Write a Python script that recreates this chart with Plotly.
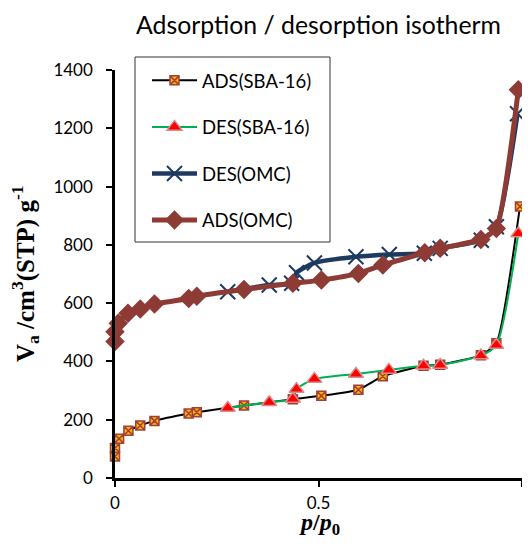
import plotly.graph_objects as go

# ---- data ----
ads_sba_x = [0.0, 0.0, 0.010, 0.033, 0.062, 0.097, 0.181, 0.201, 0.317, 0.437, 0.507, 0.598, 0.658, 0.758, 0.799, 0.899, 0.937, 0.995]
ads_sba_y = [74, 103, 135, 162, 180, 196, 221, 226, 249, 270, 282, 303, 349, 385, 389, 421, 462, 932]

des_sba_x = [0.991, 0.937, 0.899, 0.799, 0.758, 0.673, 0.592, 0.490, 0.446, 0.437, 0.379, 0.277]
des_sba_y = [839, 456, 420, 388, 385, 371, 357, 340, 305, 271, 260, 240]

des_omc_x = [0.989, 0.937, 0.900, 0.799, 0.760, 0.674, 0.592, 0.490, 0.446, 0.434, 0.379, 0.277]
des_omc_y = [1250, 862, 816, 788, 771, 767, 759, 738, 704, 668, 662, 639]

ads_omc_x = [0.0, 0.0, 0.008, 0.032, 0.062, 0.097, 0.181, 0.201, 0.317, 0.437, 0.507, 0.598, 0.658, 0.761, 0.799, 0.899, 0.937, 0.991]
ads_omc_y = [468, 502, 531, 565, 580, 597, 616, 624, 647, 668, 679, 702, 731, 773, 788, 818, 856, 1332]

x_ticks = [0, 0.5, 1]
x_tick_labels = ["0", "0.5", "1"]
y_ticks = [0, 200, 400, 600, 800, 1000, 1200, 1400]

# the page has an 8px body margin; keep the figure inside the 530x548 window
W, H = 514, 532
PW = 407.0  # plot-area width in px
PH = 408.0  # plot-area height in px

fig = go.Figure()
fig.add_trace(go.Scatter(
    x=ads_sba_x, y=ads_sba_y, name="ADS(SBA-16)", mode="lines+markers",
    line=dict(color="black", width=2, shape="spline", smoothing=0.5),
    marker=dict(symbol="square-x", size=9, color="#FFB000", line=dict(color="#A0403A", width=1.5)),
    legendgroup="g1", cliponaxis=False))
fig.add_trace(go.Scatter(
    x=des_sba_x, y=des_sba_y, name="DES(SBA-16)", mode="lines+markers",
    line=dict(color="#00B050", width=2, shape="spline", smoothing=0.6),
    marker=dict(symbol="triangle-up", size=13, color="#FF0000", line=dict(color="#D98C8C", width=1.5)),
    legendgroup="g2", cliponaxis=False))
fig.add_trace(go.Scatter(
    x=des_omc_x, y=des_omc_y, name="DES(OMC)", mode="lines+markers",
    line=dict(color="#1F3A60", width=4.5, shape="spline", smoothing=0.6),
    marker=dict(symbol="x-thin", size=15, color="#1F3A60", line=dict(color="#1F3A60", width=2)),
    legendgroup="g3", cliponaxis=False))
fig.add_trace(go.Scatter(
    x=ads_omc_x, y=ads_omc_y, name="ADS(OMC)", mode="lines+markers",
    line=dict(color="#8E3B36", width=5, shape="spline", smoothing=0.5),
    marker=dict(symbol="diamond", size=15, color="#8E3B36", line=dict(width=0)),
    legendgroup="g4", cliponaxis=False))

# legend frame
fig.add_shape(type="rect", xref="paper", yref="paper",
              x0=20 / PW, x1=215 / PW, y0=(478 - 242) / PH, y1=(478 - 57) / PH,
              line=dict(color="#333", width=1), fillcolor="white", layer="above")

# axis titles
fig.add_annotation(text="<b>V<sub>a</sub> /cm<sup>3</sup>(STP) g<sup>-1</sup></b>",
                   xref="paper", yref="paper", x=(25 - 115) / PW, y=0.5, textangle=-90,
                   showarrow=False, xanchor="center", yanchor="middle",
                   font=dict(family="Liberation Serif", size=25, color="black"))
fig.add_annotation(text="<b><i>p</i>/<i>p</i><sub>0</sub></b>",
                   xref="paper", yref="paper", x=(319.5 - 115) / PW, y=(478 - 540) / PH,
                   showarrow=False, xanchor="center", yanchor="bottom", borderpad=0,
                   font=dict(family="Liberation Serif", size=24, color="black"))

fig.update_layout(
    width=W, height=H,
    margin=dict(l=107, r=0, t=62, b=62),
    paper_bgcolor="white", plot_bgcolor="white",
    font=dict(family="Lato", color="black", size=16),
    title=dict(text="Adsorption / desorption isotherm", x=0.5, xref="paper", xanchor="center",
               y=1 - 17 / H, yanchor="middle", font=dict(family="Lato", size=24.8, color="black")),
    xaxis=dict(range=[0, 1], tickvals=x_ticks, ticktext=x_tick_labels, showgrid=False, zeroline=False,
               showline=True, linecolor="black", linewidth=2.5, ticks="outside", ticklen=6, tickwidth=2,
               tickcolor="black", tickfont=dict(family="Lato", size=17), ticklabelstandoff=2),
    yaxis=dict(range=[0, 1400], tickvals=y_ticks, showgrid=False, zeroline=False,
               showline=True, linecolor="black", linewidth=2.5, ticks="outside", ticklen=6, tickwidth=2,
               tickcolor="black", tickfont=dict(family="Lato", size=17), ticklabelstandoff=10),
    legend=dict(x=32 / PW, y=1.020, xanchor="left", yanchor="top", bgcolor="rgba(0,0,0,0)",
                borderwidth=0, font=dict(family="Lato", size=18.5),
                itemwidth=45, tracegroupgap=19.5),
    showlegend=True,
)

fig.write_html("out.html")
